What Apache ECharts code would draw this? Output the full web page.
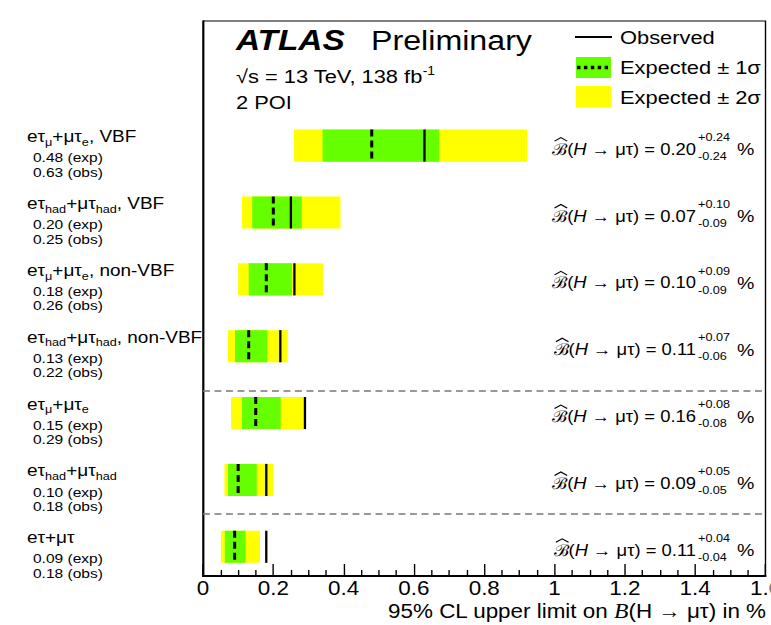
<!DOCTYPE html>
<html>
<head>
<meta charset="utf-8">
<script src="https://cdn.jsdelivr.net/npm/echarts@6/dist/echarts.min.js"></script>
<style>
  html, body { margin: 0; padding: 0; background: #fff; overflow: hidden; }
  #main { height: 625px; transform-origin: 0 0; }
</style>
</head>
<body>
<div id="main"></div>
<script>
// the reference is a ROOT plot stretched sideways, so draw narrow and stretch the whole chart
const S = 1.15;
const W = 771 / S;
const px = x => x / S;
const FONT = '"Liberation Sans", Arial, sans-serif';

// channels, top to bottom
const channels = [
  'eτ{s|μ}+μτ{s|e}, VBF',
  'eτ{s|had}+μτ{s|had}, VBF',
  'eτ{s|μ}+μτ{s|e}, non-VBF',
  'eτ{s|had}+μτ{s|had}, non-VBF',
  'eτ{s|μ}+μτ{s|e}',
  'eτ{s|had}+μτ{s|had}',
  'eτ+μτ'
];
const expLimit = [0.48, 0.20, 0.18, 0.13, 0.15, 0.10, 0.09];
const obsLimit = [0.63, 0.25, 0.26, 0.22, 0.29, 0.18, 0.18];
const band1Lo = [0.340, 0.140, 0.130, 0.091, 0.111, 0.071, 0.062];
const band1Hi = [0.672, 0.281, 0.253, 0.183, 0.221, 0.153, 0.121];
const band2Lo = [0.259, 0.111, 0.100, 0.071, 0.080, 0.061, 0.051];
const band2Hi = [0.922, 0.391, 0.341, 0.241, 0.288, 0.200, 0.162];
const bestFit = [0.20, 0.07, 0.10, 0.11, 0.16, 0.09, 0.11];
const errUp = [0.24, 0.10, 0.09, 0.07, 0.08, 0.05, 0.04];
const errDown = [0.24, 0.09, 0.09, 0.06, 0.08, 0.05, 0.04];
const separators = [3.67, 5.51];

const HALF = 0.24; // half bar height in row units

const el = document.getElementById('main');
el.style.width = W + 'px';
el.style.transform = 'scaleX(' + S + ')';
const chart = echarts.init(el, null, { renderer: 'svg' });

// text width, to put the hat over the B
const measure = document.createElement('canvas').getContext('2d');
function textWidth(str, size, style) {
  measure.font = (style || '') + ' ' + size + 'px ' + FONT;
  return measure.measureText(str).width;
}

function bandSeries(name, lo, hi, color) {
  return {
    type: 'custom',
    name: name,
    data: lo.map((v, i) => [v, hi[i], i]),
    encode: { x: [0, 1], y: 2 },
    renderItem: function (params, api) {
      const a = api.coord([api.value(0), api.value(2) - HALF]);
      const b = api.coord([api.value(1), api.value(2) + HALF]);
      return {
        type: 'rect',
        shape: { x: a[0], y: Math.min(a[1], b[1]), width: b[0] - a[0], height: Math.abs(b[1] - a[1]) },
        style: { fill: color }
      };
    }
  };
}

function limitSeries(name, vals, dash) {
  return {
    type: 'custom',
    name: name,
    data: vals.map((v, i) => [v, i]),
    encode: { x: 0, y: 1 },
    renderItem: function (params, api) {
      const a = api.coord([api.value(0), api.value(1) - HALF]);
      const b = api.coord([api.value(0), api.value(1) + HALF]);
      return {
        type: 'line',
        shape: { x1: a[0], y1: a[1], x2: b[0], y2: b[1] },
        style: { stroke: '#000', lineWidth: dash ? 3 / S : 2.3 / S, lineDash: dash ? [7, 4] : null }
      };
    }
  };
}

const RS = 16; // font size of the right-hand fit results

const labelSeries = {
  type: 'custom',
  name: 'labels',
  clip: false,
  silent: true,
  data: channels.map((c, i) => [0, i]),
  encode: { x: 0, y: 1 },
  renderItem: function (params, api) {
    const i = params.dataIndex;
    const y = api.coord([0, i])[1];
    const base = { fill: '#000', fontFamily: FONT, align: 'left', verticalAlign: 'middle' };
    const yr = y + 3.5;
    const xr = px(696);
    const tail = '(H → μτ) = ' + bestFit[i].toFixed(2);
    const bx = xr - textWidth(tail, RS) - textWidth('ℬ', RS);
    const bw = textWidth('ℬ', RS);
    return {
      type: 'group',
      children: [
        { type: 'text', x: px(27), y: y - 9, style: Object.assign({}, base, {
            text: channels[i], fontSize: 16.5, lineHeight: 22,
            rich: { s: { fontSize: 11, lineHeight: 11, verticalAlign: 'bottom', fontFamily: FONT } }
        }) },
        { type: 'text', x: px(33), y: y + 12, style: Object.assign({}, base, {
            text: expLimit[i].toFixed(2) + ' (exp)', fontSize: 13.5, lineHeight: 13 }) },
        { type: 'text', x: px(33), y: y + 26.5, style: Object.assign({}, base, {
            text: obsLimit[i].toFixed(2) + ' (obs)', fontSize: 13.5, lineHeight: 13 }) },
        { type: 'text', x: xr, y: yr, style: Object.assign({}, base, {
            align: 'right', fontSize: RS,
            text: 'ℬ({i|H} → μτ) = ' + bestFit[i].toFixed(2),
            rich: { i: { fontStyle: 'italic', fontSize: RS, fontFamily: FONT } }
        }) },
        { type: 'polyline', shape: { points: [[bx + 2, yr - 8], [bx + bw / 2 + 1, yr - 11.5], [bx + bw, yr - 8]] },
          style: { stroke: '#000', lineWidth: 1.1, fill: null } },
        { type: 'text', x: xr + px(2), y: yr - 12, style: Object.assign({}, base, {
            text: '+' + errUp[i].toFixed(2), fontSize: 11 }) },
        { type: 'text', x: xr + px(2), y: yr + 7, style: Object.assign({}, base, {
            text: '-' + errDown[i].toFixed(2), fontSize: 11 }) },
        { type: 'text', x: px(737), y: yr, style: Object.assign({}, base, {
            text: '%', fontSize: 17 }) }
      ]
    };
  }
};

const separatorSeries = {
  type: 'custom',
  name: 'separators',
  data: [],
  renderItem: function () { return null; },
  markLine: {
    symbol: 'none',
    silent: true,
    label: { show: false },
    lineStyle: { color: '#777', type: [6, 4], width: 1.6 },
    data: separators.map(v => ({ yAxis: v }))
  }
};

const txt = (x, y, text, size, extra) => ({
  type: 'text', x: px(x), y: y,
  style: Object.assign({ text: text, fontSize: size, fontFamily: FONT, fill: '#000', align: 'left', verticalAlign: 'middle' }, extra || {})
});

chart.setOption({
  animation: false,
  grid: {
    left: px(203), right: W - px(766), top: 21, bottom: 49,
    containLabel: false, outerBoundsMode: 'none',
    show: true, borderColor: '#000', borderWidth: 1.2
  },
  xAxis: {
    type: 'value', min: 0, max: 1.6, interval: 0.2,
    axisLine: { show: true, onZero: false, lineStyle: { color: '#000', width: 2 } },
    axisTick: { inside: true, length: 12, lineStyle: { color: '#000', width: 1.2 } },
    minorTick: { show: true, splitNumber: 4, length: 6, lineStyle: { color: '#000', width: 1.2 } },
    splitLine: { show: false },
    axisLabel: { fontSize: 19.5, lineHeight: 16, color: '#000', fontFamily: FONT, margin: 4,
      formatter: v => String(Math.round(v * 10) / 10) }
  },
  yAxis: {
    type: 'value', inverse: true, min: -1.864, max: 6.437,
    axisLine: { show: true, onZero: false, lineStyle: { color: '#000', width: 1.5 } },
    axisTick: { show: false }, axisLabel: { show: false }, splitLine: { show: false }
  },
  series: [
    separatorSeries,
    bandSeries('Expected ± 2σ', band2Lo, band2Hi, '#ffff00'),
    bandSeries('Expected ± 1σ', band1Lo, band1Hi, '#66ff00'),
    limitSeries('Expected', expLimit, true),
    limitSeries('Observed', obsLimit, false),
    labelSeries
  ],
  graphic: [
    txt(236, 40, 'ATLAS', 29, { fontWeight: 'bold', fontStyle: 'italic' }),
    txt(371, 40, 'Preliminary', 28),
    txt(236, 76, '√s = 13 TeV, 138 fb{sup|-1}', 19, {
      rich: { sup: { fontSize: 12, verticalAlign: 'top', lineHeight: 12, fontFamily: FONT } }, lineHeight: 22 }),
    txt(236, 102, '2 POI', 19),
    { type: 'line', shape: { x1: px(575), y1: 37, x2: px(612), y2: 37 }, style: { stroke: '#000', lineWidth: 2 } },
    { type: 'rect', shape: { x: px(576), y: 57, width: px(35), height: 21 }, style: { fill: '#66ff00' } },
    { type: 'line', shape: { x1: px(577), y1: 67.5, x2: px(611), y2: 67.5 }, style: { stroke: '#000', lineWidth: 3.5, lineDash: [3, 3] } },
    { type: 'rect', shape: { x: px(576), y: 86, width: px(35), height: 21.5 }, style: { fill: '#ffff00' } },
    txt(620, 37, 'Observed', 19),
    txt(620, 67, 'Expected ± 1σ', 19),
    txt(620, 97, 'Expected ± 2σ', 19),
    // x-axis title
    txt(766, 611, '95% CL upper limit on {i|B}(H → μτ) in %', 19.5, {
      align: 'right', lineHeight: 18,
      rich: { i: { fontStyle: 'italic', fontFamily: '"Liberation Serif", serif', fontSize: 20.5, lineHeight: 18 } } })
  ]
});
</script>
</body>
</html>
